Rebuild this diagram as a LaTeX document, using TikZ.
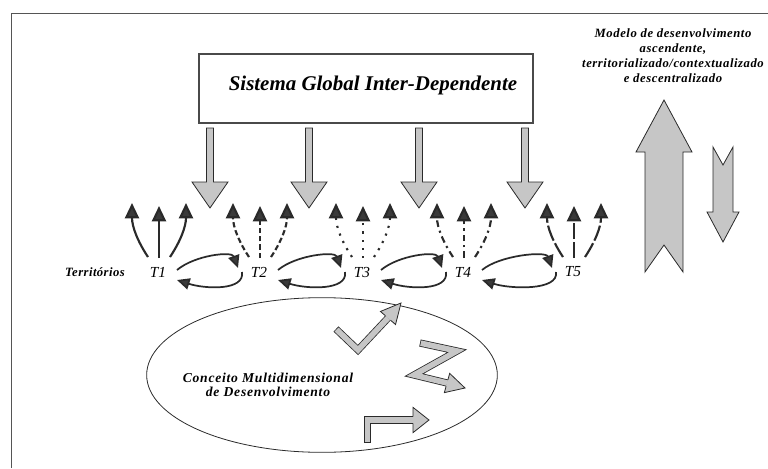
\documentclass[tikz,border=0pt]{standalone}
\usepackage{fontspec}
\setmainfont{Liberation Serif}
\usetikzlibrary{arrows.meta,calc,shapes.geometric}

\definecolor{blockgray}{HTML}{C6C6C6}
\definecolor{ink}{HTML}{2A2A2A}
\definecolor{headgray}{HTML}{3A3A3A}

\tikzset{
  frame/.style={draw=ink!80, line width=0.7pt},
  block/.style={fill=blockgray, draw=ink, line width=0.6pt, line join=miter},
  gbox/.style={draw=ink!85, line width=0.9pt, minimum width=250.5pt, minimum height=51.75pt, inner sep=0pt},
  gtitle/.style={font=\bfseries\itshape\fontsize{15.7}{17}\selectfont, inner sep=0pt},
  model/.style={font=\bfseries\itshape\fontsize{9.5}{11.25}\selectfont\addfontfeature{LetterSpace=4.5}, align=center, inner sep=0pt},
  region/.style={font=\bfseries\itshape\fontsize{9.5}{11}\selectfont\addfontfeature{LetterSpace=3.5}, inner sep=0pt},
  tlabel/.style={font=\itshape\fontsize{11.5}{13}\selectfont, inner sep=0pt},
  ctext/.style={font=\bfseries\itshape\fontsize{10.2}{10}\selectfont\addfontfeature{LetterSpace=5.5}, align=center, inner sep=0pt},
  upflow/.style={line width=1.6pt, draw=ink, -{Triangle[width=10.5pt,length=11.5pt,fill=headgray]}},
  exchange/.style={line width=1.3pt, draw=ink, -{Triangle[width=8.5pt,length=9.5pt,fill=headgray]}},
  flow1/.style={solid},
  flow2/.style={dash pattern=on 4pt off 2.2pt},
  flow3/.style={dash pattern=on 1.6pt off 4.5pt},
  flow4/.style={dash pattern=on 5pt off 3pt on 1.6pt off 3pt},
  flow5/.style={dash pattern=on 12pt off 2.2pt},
  shaftout/.style={draw=ink, line width=5.4pt, line join=miter},
  shaftin/.style={draw=blockgray, line width=4.2pt, line join=miter, shorten <=0.6pt},
}

% gray block arrow head: #1 base centre, #2 tip, #3 shaft half width, #4 head half width
\newcommand\blockhead[4]{%
  \path[block] ($(#1)!#3!90:(#2)$) -- ($(#1)!#4!90:(#2)$) -- (#2)
    -- ($(#1)!#4!-90:(#2)$) -- ($(#1)!#3!-90:(#2)$);}

\begin{document}
\begin{tikzpicture}[x=0.75pt,y=-0.75pt]
\useasboundingbox (0,0) rectangle (768,468);

% outer frame
\draw[frame] (11,468) -- (11,13) -- (768,13);

% global system box
\node[gbox] (global) at (366,88.5) {};
\node[gtitle] (gtitletext) at (373,85) {Sistema Global Inter-Dependente};

% descending influence arrows
\foreach \x in {210,309,419,525}
  \draw[block] (\x-3.5,128) -- (\x+3.5,128) -- (\x+3.5,182) -- (\x+18,182)
    -- (\x,208) -- (\x-18,182) -- (\x-3.5,182) -- cycle;

% development model caption
\node[model] (modeltext) at (673,56)
  {Modelo de desenvolvimento\\ascendente,\\territorializado/contextualizado\\e descentralizado};

% ascending and descending model arrows
\draw[block] (645,272) -- (664,245) -- (683,272) -- (683,152) -- (692,152)
  -- (664,100) -- (636,152) -- (645,152) -- cycle;
\draw[block] (713,147) -- (723,165) -- (733,147) -- (733,212) -- (739,212)
  -- (723,242) -- (707,212) -- (713,212) -- cycle;

% territories
\node[region] (terr) at (95,272) {Territórios};
\node[tlabel] (T1) at (158,272) {T1};
\node[tlabel] (T2) at (259,272) {T2};
\node[tlabel] (T3) at (362,272) {T3};
\node[tlabel] (T4) at (463,272) {T4};
\node[tlabel] (T5) at (573,272) {T5};

% outgoing flows of every territory
\foreach \i in {1,...,5} {
  \draw[upflow, flow\i] ($(T\i)+(-10,-15)$) .. controls ($(T\i)+(-20,-30)$) and ($(T\i)+(-26,-45)$) .. ($(T\i)+(-26,-69)$);
  \draw[upflow, flow\i] ($(T\i)+(1,-14)$) -- ($(T\i)+(1,-66)$);
  \draw[upflow, flow\i] ($(T\i)+(12,-15)$) .. controls ($(T\i)+(22,-30)$) and ($(T\i)+(28,-45)$) .. ($(T\i)+(28,-69)$);
}

% exchanges between neighbouring territories
\foreach \a/\b in {1/2,2/3,3/4,4/5} {
  \draw[exchange] ($(T\a)+(19,-2)$) .. controls ($(T\a)+(37,-17)$) and ($(T\b)+(-27,-21)$) .. ($(T\b)+(-21,-4)$);
  \draw[exchange] ($(T\b)+(-17,0)$) .. controls ($(T\b)+(-14,19)$) and ($(T\a)+(47,17)$) .. ($(T\a)+(19,8)$);
}

% multidimensional concept
\node[draw=ink, line width=0.6pt, ellipse, minimum width=263pt, minimum height=116pt, inner sep=0pt] (concept) at (322,375) {};
\node[ctext] (concepttext) at (268,385) {Conceito Multidimensional\\de Desenvolvimento};

% check-shaped arrow
\coordinate (c1) at (336,329);
\coordinate (c2) at (358,350);
\coordinate (cb) at (388,318);
\coordinate (ct) at (401,303);
\draw[shaftout] (c1) -- (c2) -- (cb);
\draw[shaftin] (c1) -- (c2) -- (cb);
\blockhead{cb}{ct}{2.5pt}{7.5pt}

% zigzag arrow
\coordinate (z1) at (420,343);
\coordinate (z2) at (457,351);
\coordinate (z3) at (414,375);
\coordinate (zb) at (447,383);
\coordinate (zt) at (465,388);
\draw[shaftout] (z1) -- (z2) -- (z3) -- (zb);
\draw[shaftin] (z1) -- (z2) -- (z3) -- (zb);
\blockhead{zb}{zt}{2.5pt}{7.5pt}

% corner arrow
\coordinate (l1) at (367.5,443);
\coordinate (l2) at (367.5,420);
\coordinate (lb) at (413,420);
\coordinate (lt) at (429,420);
\draw[shaftout] (l1) -- (l2) -- (lb);
\draw[shaftin] (l1) -- (l2) -- (lb);
\blockhead{lb}{lt}{2.5pt}{9.5pt}
\end{tikzpicture}
\end{document}
